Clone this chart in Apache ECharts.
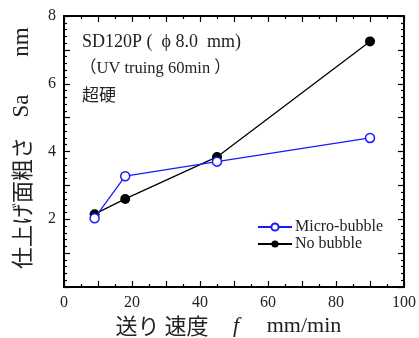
<!DOCTYPE html>
<html>
<head>
<meta charset="utf-8">
<script src="https://cdn.jsdelivr.net/npm/echarts@6/dist/echarts.min.js"></script>
<style>
html, body { margin: 0; padding: 0; background: #fff; }
#chart { width: 419px; height: 338px; }
</style>
</head>
<body>
<div id="chart"></div>
<script>
// feed rate f (mm/min)
var feedRates = [9, 18, 45, 90];
// surface roughness Sa (nm)
var microBubble = [2.03, 3.27, 3.70, 4.40];
var noBubble = [2.15, 2.60, 3.84, 7.25];
var xTicks = [0, 20, 40, 60, 80, 100];
var yTicks = [2, 4, 6, 8];

var serif = 'Liberation Serif';
var jp = 'Noto Sans CJK JP';

function pairs(ys) {
    return feedRates.map(function (x, i) { return [x, ys[i]]; });
}

var myChart = echarts.init(document.getElementById('chart'));

function axisBase(min, max, interval, split) {
    return {
        type: 'value',
        min: min,
        max: max,
        interval: interval,
        axisLine: { show: true, onZero: false, lineStyle: { color: '#000', width: 2 } },
        axisTick: { show: true, inside: true, length: 6, lineStyle: { color: '#000', width: 1.2 } },
        minorTick: { show: true, splitNumber: split, length: 3, lineStyle: { color: '#000', width: 1.2 } },
        splitLine: { show: false },
        minorSplitLine: { show: false }
    };
}

var xMain = axisBase(0, 100, 10, 2);
xMain.position = 'bottom';
xMain.axisLabel = {
    fontFamily: serif, fontSize: 16, color: '#222', margin: 8,
    formatter: function (v) { return xTicks.indexOf(v) >= 0 ? String(v) : ''; }
};
var xTop = axisBase(0, 100, 10, 2);
xTop.position = 'top';
xTop.axisLabel = { show: false };

var yMain = axisBase(0, 8, 1, 5);
yMain.position = 'left';
yMain.axisLabel = {
    fontFamily: serif, fontSize: 16, color: '#222', margin: 8,
    formatter: function (v) { return yTicks.indexOf(v) >= 0 ? String(v) : ''; }
};
var yRight = axisBase(0, 8, 1, 5);
yRight.position = 'right';
yRight.axisLabel = { show: false };

// rotated y title pieces
function vText(str, y, font) {
    return {
        type: 'text', x: 22, y: y, rotation: Math.PI / 2,
        style: { text: str, font: font, fill: '#222', align: 'center', verticalAlign: 'middle' }
    };
}
function hText(str, x, font) {
    return {
        type: 'text', x: x, y: 326,
        style: { text: str, font: font, fill: '#222', align: 'center', verticalAlign: 'middle' }
    };
}

var option = {
    animation: false,
    backgroundColor: '#fff',
    grid: { left: 64, right: 15, top: 16, bottom: 51, containLabel: false },
    xAxis: [xMain, xTop],
    yAxis: [yMain, yRight],
    legend: {
        left: 252,
        top: 214,
        orient: 'vertical',
        itemWidth: 34,
        itemHeight: 9,
        itemGap: 1,
        textStyle: { fontFamily: serif, fontSize: 16, color: '#222', padding: [0, 0, 0, -2] },
        data: ['Micro-bubble', 'No bubble']
    },
    graphic: [
        {
            type: 'text', left: 82, top: 33,
            style: { text: 'SD120P (  ϕ 8.0  mm)', font: '18px "Liberation Serif"', fill: '#222' }
        },
        {
            type: 'text', left: 80, top: 60,
            style: { text: '（UV truing 60min ）', font: '16.5px "Liberation Serif", "Noto Sans CJK JP"', fill: '#222' }
        },
        {
            type: 'text', left: 82, top: 86,
            style: { text: '超硬', font: '17px "Noto Sans CJK JP"', fill: '#222' }
        },
        vText('仕上げ面粗さ', 203, '22px "Noto Sans CJK JP"'),
        vText('Sa', 106, '23px "Liberation Serif"'),
        vText('nm', 42, '23px "Liberation Serif"'),
        hText('送り 速度', 162, '22px "Noto Sans CJK JP"'),
        hText('f', 236, 'italic 22px "Liberation Serif"'),
        hText('mm/min', 304, '22px "Liberation Serif"')
    ],
    series: [
        {
            name: 'Micro-bubble',
            type: 'line',
            data: pairs(microBubble),
            symbol: 'circle',
            symbolSize: 9,
            lineStyle: { color: '#1a1aff', width: 1.3 },
            itemStyle: { color: '#fff', borderColor: '#1a1aff', borderWidth: 1.5 },
            z: 3
        },
        {
            name: 'No bubble',
            type: 'line',
            data: pairs(noBubble),
            symbol: 'circle',
            symbolSize: 10,
            lineStyle: { color: '#000', width: 1.3 },
            itemStyle: { color: '#000', borderColor: '#000', borderWidth: 0 },
            z: 2
        }
    ]
};
myChart.setOption(option);
</script>
</body>
</html>
